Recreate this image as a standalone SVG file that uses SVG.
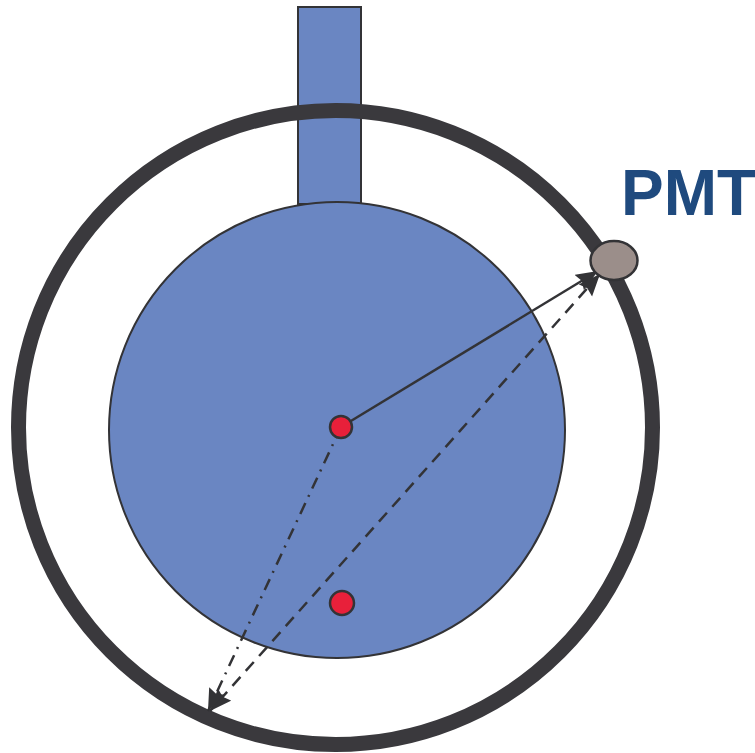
<svg xmlns="http://www.w3.org/2000/svg" width="755" height="753" viewBox="0 0 755 753">
<style>
.blue{fill:#6a86c2;stroke:#333336;stroke-width:2}
.dot{fill:#e8203a;stroke:#333336;stroke-width:2.5}
.ln{fill:none;stroke:#333336;stroke-width:2.5}
</style>
<defs>
<marker id="arr" markerUnits="userSpaceOnUse" markerWidth="24" markerHeight="20" refX="22" refY="9" orient="auto-start-reverse" viewBox="0 0 24 20">
<path d="M0,0 L22,9 L0,18 L3,9 z" fill="#333336"/>
</marker>
</defs>
<rect width="755" height="753" fill="#ffffff"/>
<g id="neck"><rect class="blue" x="298" y="7" width="63" height="197"/></g>
<g id="outer-ring"><circle cx="335.5" cy="427.5" r="317" fill="none" stroke="#3a393d" stroke-width="15"/></g>
<g id="sphere"><circle class="blue" cx="337" cy="430" r="228"/></g>
<g id="connectors">
<line class="ln" x1="341" y1="427" x2="598" y2="271" marker-end="url(#arr)"/>
<line class="ln" x1="600" y1="274" x2="210" y2="711" stroke-dasharray="12 8" marker-start="url(#arr)" marker-end="url(#arr)"/>
<line class="ln" x1="341" y1="427" x2="208" y2="711" stroke-dasharray="12 7 2 7" marker-end="url(#arr)"/>
</g>
<g id="source-center"><circle class="dot" cx="341" cy="427" r="11"/></g>
<g id="source-low"><circle class="dot" cx="342" cy="603" r="12"/></g>
<g id="pmt"><ellipse cx="614" cy="260.5" rx="23.5" ry="19.5" fill="#9b8e8a" stroke="#333336" stroke-width="2.5"/></g>
<g id="pmt-label"><text x="621" y="215" font-family="Liberation Sans, Arial, sans-serif" font-weight="bold" font-size="64" fill="#1f4a7e">PMT</text></g>
</svg>
